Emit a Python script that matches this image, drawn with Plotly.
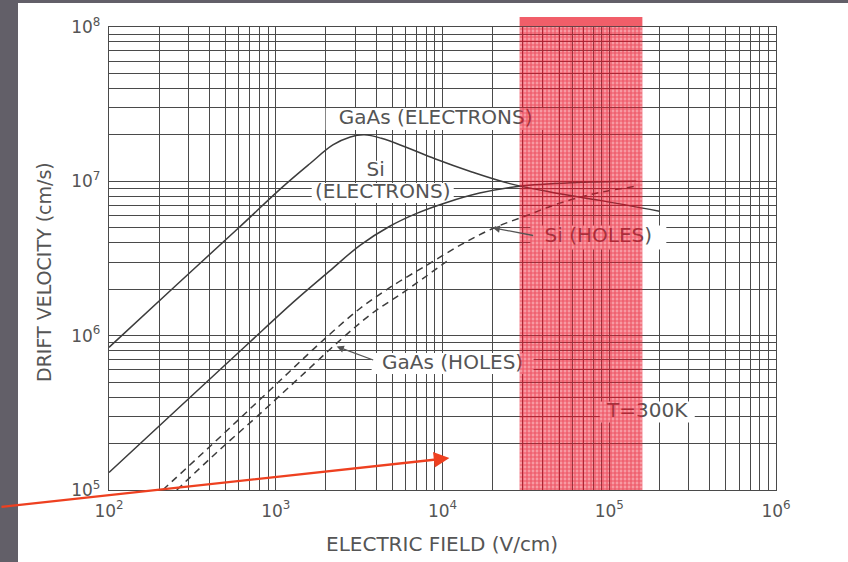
import numpy as np
import plotly.graph_objects as go

# ---------------- data ----------------
gaas_e_E = [100, 250, 600, 1100, 1600, 2200, 2800, 3400, 4300, 6000, 9000, 15000, 25000, 45000, 90000, 200000]
gaas_e_v = [8.4e5, 2.1e6, 5.0e6, 9.2e6, 1.3e7, 1.72e7, 1.94e7, 2.0e7, 1.9e7, 1.67e7, 1.4e7, 1.15e7, 9.7e6, 8.5e6, 7.5e6, 6.4e6]

si_e_E = [100, 300, 700, 1300, 2100, 3200, 4800, 7000, 10600, 16700, 29000, 60000, 145000]
si_e_v = [1.3e5, 3.9e5, 9.1e5, 1.68e6, 2.62e6, 3.85e6, 5.1e6, 6.2e6, 7.3e6, 8.4e6, 9.3e6, 9.8e6, 1.0e7]

si_h_E = [210, 400, 700, 1200, 2000, 3200, 5000, 8000, 13000, 20000, 32000, 50000, 85000, 145000]
si_h_v = [1.0e5, 1.9e5, 3.35e5, 5.8e5, 9.7e5, 1.5e6, 2.1e6, 2.85e6, 3.9e6, 4.95e6, 6.0e6, 7.2e6, 8.4e6, 9.3e6]

gaas_h_E = [255, 450, 800, 1400, 2500, 3800, 6000, 10600]
gaas_h_v = [1.0e5, 1.78e5, 3.1e5, 5.4e5, 9.6e5, 1.4e6, 1.95e6, 3.03e6]

x_tick_vals = [1e2, 1e3, 1e4, 1e5, 1e6]
x_tick_text = ["10<sup>2</sup>", "10<sup>3</sup>", "10<sup>4</sup>", "10<sup>5</sup>", "10<sup>6</sup>"]
y_tick_vals = [1e5, 1e6, 1e7, 1e8]
y_tick_text = ["10<sup>5</sup>", "10<sup>6</sup>", "10<sup>7</sup>", "10<sup>8</sup>"]

label_text = ["GaAs (ELECTRONS)", "Si", "(ELECTRONS)", "Si (HOLES)", "GaAs (HOLES)", "T=300K"]
label_E = [9100, 3970, 4380, 8.6e4, 1.15e4, 1.69e5]
label_v = [2.53e7, 1.17e7, 8.4e6, 4.33e6, 6.6e5, 3.2e5]
label_box_w = [220, 28, 142, 136, 162, 95]
label_box_h = [22, 20, 20, 24, 21, 21]

band_E = [2.9e4, 1.58e5]

# ---------------- layout geometry ----------------
W, H = 848, 562
ML, MR, MT, MB = 109, 72, 27, 72
PW, PH = W - ML - MR, H - MT - MB
XR, YR = [2, 6], [5, 8]
ppd_x = PW / (XR[1] - XR[0])
ppd_y = PH / (YR[1] - YR[0])

INK = "#4a4a4a"
TXT = "#555555"
FONT = "DejaVu Sans"

fig = go.Figure()

line_style = dict(color="#3c3c3c", width=1.5, shape="spline", smoothing=1.0)
fig.add_trace(go.Scatter(x=gaas_e_E, y=gaas_e_v, mode="lines", line=line_style, hoverinfo="skip"))
fig.add_trace(go.Scatter(x=si_e_E, y=si_e_v, mode="lines", line=line_style, hoverinfo="skip"))
dash_style = dict(color="#3c3c3c", width=1.5, dash="7px,5px", shape="spline", smoothing=1.0)
fig.add_trace(go.Scatter(x=si_h_E, y=si_h_v, mode="lines", line=dash_style, hoverinfo="skip"))
fig.add_trace(go.Scatter(x=gaas_h_E, y=gaas_h_v, mode="lines", line=dash_style, hoverinfo="skip"))

fig.add_trace(go.Scatter(x=label_E, y=label_v, mode="text", text=label_text,
                         textposition="middle center",
                         textfont=dict(family=FONT, size=20, color=TXT), hoverinfo="skip"))

# red highlight band: hatched translucent fill drawn over grid, curves and labels
y_lo, y_hi = 10 ** YR[0], 10 ** YR[1]
fig.add_trace(go.Scatter(x=[band_E[0], band_E[1], band_E[1], band_E[0], band_E[0]],
                         y=[y_lo, y_lo, y_hi, y_hi, y_lo], mode="lines", fill="toself",
                         fillcolor="rgba(236,20,40,0.5)",
                         fillpattern=dict(shape="+", fgcolor="rgba(228,0,22,0.9)",
                                          bgcolor="rgba(238,30,50,0.45)", size=4, solidity=0.5,
                                          fillmode="overlay"),
                         line=dict(width=0), hoverinfo="skip"))

shapes = []
# white boxes behind labels (hide grid, stay below curves)
for E, v, w, h in zip(label_E, label_v, label_box_w, label_box_h):
    lx, ly = np.log10(E), np.log10(v)
    dx, dy = (w / 2) / ppd_x, (h / 2) / ppd_y
    shapes.append(dict(type="rect", xref="x", yref="y", layer="between",
                       x0=10 ** (lx - dx), x1=10 ** (lx + dx),
                       y0=10 ** (ly - dy), y1=10 ** (ly + dy),
                       fillcolor="white", line=dict(width=0)))

# band overhang above the plot frame
shapes.append(dict(type="rect", xref="x", yref="paper", layer="above",
                   x0=band_E[0], x1=band_E[1], y0=1 + 0.8 / PH, y1=1 + 10 / PH,
                   fillcolor="rgba(236,40,55,0.75)", line=dict(width=0)))

# gray scan border (left and top)
GRAY = "#625f68"
shapes.append(dict(type="rect", xref="paper", yref="paper", layer="above",
                   x0=-ML / PW, x1=(18 - ML) / PW, y0=-MB / PH - 0.01, y1=1 + MT / PH + 0.01,
                   fillcolor=GRAY, line=dict(width=0)))
shapes.append(dict(type="rect", xref="paper", yref="paper", layer="above",
                   x0=-ML / PW - 0.01, x1=(W - ML) / PW + 0.01, y0=1 + (MT - 3) / PH, y1=1 + MT / PH + 0.01,
                   fillcolor=GRAY, line=dict(width=0)))

annotations = [
    # label arrows
    dict(x=np.log10(2.0e4), y=np.log10(5.0e6), xref="x", yref="y", text="", showarrow=True,
         ax=42, ay=8, arrowhead=2, arrowsize=1.1, arrowwidth=1.3, arrowcolor=TXT),
    dict(x=np.log10(2.32e3), y=np.log10(8.5e5), xref="x", yref="y", text="", showarrow=True,
         ax=38, ay=14, arrowhead=2, arrowsize=1.1, arrowwidth=1.3, arrowcolor=TXT),
    # red arrow
    dict(x=np.log10(1.1e4), y=np.log10(1.61e5), xref="x", yref="y", text="", showarrow=True,
         ax=-450, ay=49, arrowhead=2, arrowsize=1.3, arrowwidth=2.4, arrowcolor="#ee4020"),
    # axis titles
    dict(x=(442 - ML) / PW, y=(MT + PH - 544) / PH,
         xref="paper", yref="paper", text="ELECTRIC FIELD (V/cm)", showarrow=False,
         xanchor="center", yanchor="middle", font=dict(family=FONT, size=20, color=TXT)),
    dict(x=(44 - ML) / PW, y=(MT + PH - 272) / PH, xref="paper", yref="paper",
         text="DRIFT VELOCITY (cm/s)", showarrow=False, textangle=-90,
         xanchor="center", yanchor="middle", font=dict(family=FONT, size=19, color=TXT)),
]

minor_x = [m * 10 ** d for d in range(2, 6) for m in range(2, 10)]
minor_y = [m * 10 ** d for d in range(5, 8) for m in range(2, 10)]

axis_common = dict(type="log", showgrid=True, gridcolor=INK, gridwidth=1.4,
                   showline=True, mirror=True, linecolor=INK, linewidth=1.4,
                   ticks="", zeroline=False,
                   tickfont=dict(family=FONT, size=17, color=TXT))

fig.update_xaxes(range=XR, tickmode="array", tickvals=x_tick_vals, ticktext=x_tick_text,
                 minor=dict(tickmode="array", tickvals=minor_x, showgrid=True, gridcolor=INK, gridwidth=1.4),
                 ticklabelstandoff=5, **axis_common)
fig.update_yaxes(range=YR, tickmode="array", tickvals=y_tick_vals, ticktext=y_tick_text,
                 minor=dict(tickmode="array", tickvals=minor_y, showgrid=True, gridcolor=INK, gridwidth=1.4),
                 ticklabelstandoff=4, **axis_common)

fig.update_layout(width=W, height=H, margin=dict(l=ML, r=MR, t=MT, b=MB),
                  paper_bgcolor="white", plot_bgcolor="white", showlegend=False,
                  shapes=shapes, annotations=annotations)

fig.write_html("out.html")
